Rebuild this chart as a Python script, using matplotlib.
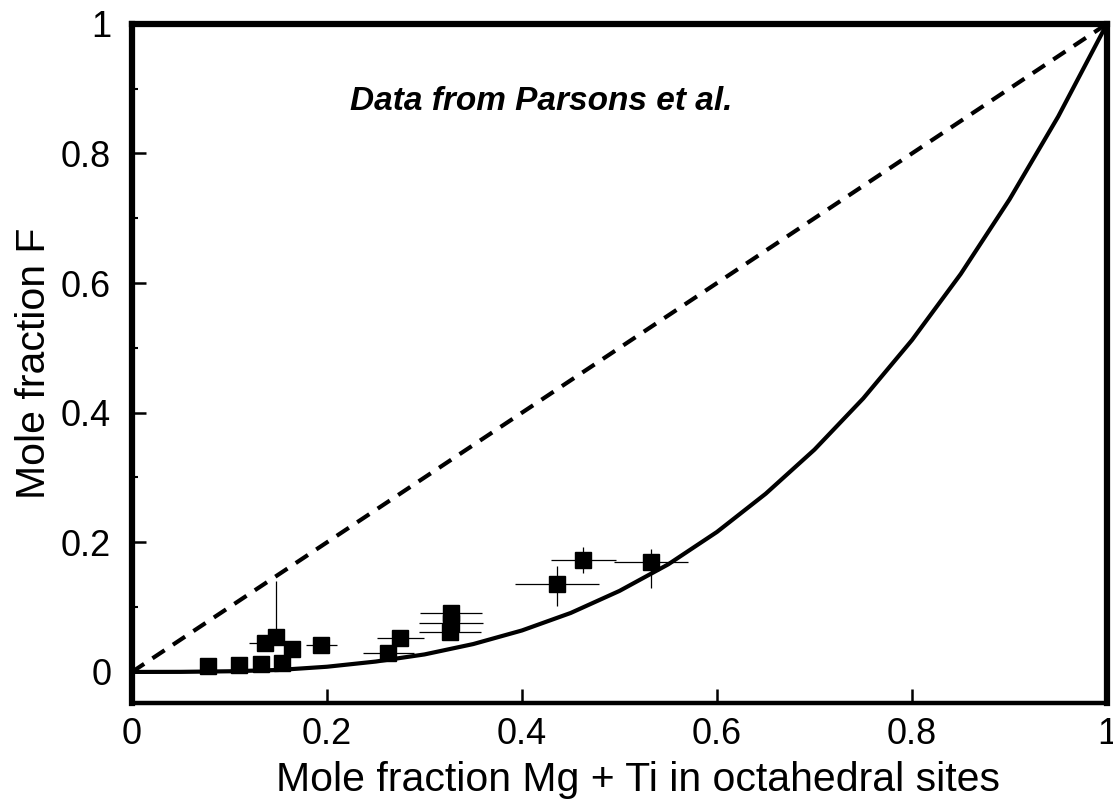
import matplotlib
matplotlib.use("Agg")
import matplotlib.pyplot as plt
from matplotlib.ticker import MultipleLocator

plt.rcParams['font.family'] = ['Liberation Sans', 'DejaVu Sans']

# Data points (Parsons et al.)
pt_x = [0.078, 0.110, 0.132, 0.136, 0.148, 0.154, 0.164, 0.194,
        0.263, 0.275, 0.327, 0.327, 0.326, 0.436, 0.463, 0.532]
pt_y = [0.009, 0.011, 0.012, 0.045, 0.054, 0.014, 0.036, 0.042,
        0.029, 0.053, 0.091, 0.076, 0.062, 0.136, 0.172, 0.169]
pt_xerr = [0.0, 0.0, 0.0, 0.016, 0.0, 0.0, 0.0, 0.016,
           0.026, 0.024, 0.032, 0.033, 0.032, 0.043, 0.033, 0.038]
pt_yerr_lo = [0.0, 0.0, 0.0, 0.0, 0.0, 0.0, 0.0, 0.0,
              0.0, 0.0, 0.0, 0.0, 0.0, 0.035, 0.020, 0.040]
pt_yerr_hi = [0.0, 0.0, 0.0, 0.0, 0.086, 0.0, 0.0, 0.0,
              0.0, 0.0, 0.0, 0.0, 0.0, 0.027, 0.020, 0.020]

# Model curve
curve_x = [0.0, 0.05, 0.10, 0.15, 0.20, 0.25, 0.30, 0.35, 0.40, 0.45, 0.50,
           0.55, 0.60, 0.65, 0.70, 0.75, 0.80, 0.85, 0.90, 0.95, 1.0]
curve_y = [0.0, 0.0001, 0.001, 0.003, 0.008, 0.016, 0.027, 0.043, 0.064, 0.091, 0.125,
           0.166, 0.216, 0.275, 0.343, 0.422, 0.512, 0.614, 0.729, 0.857, 1.0]

# 1:1 line
diag_x = [0.0, 1.0]
diag_y = [0.0, 1.0]

xticks = [0, 0.2, 0.4, 0.6, 0.8, 1]
xtick_labels = ['0', '0.2', '0.4', '0.6', '0.8', '1']
yticks = [0, 0.2, 0.4, 0.6, 0.8, 1]
ytick_labels = ['0', '0.2', '0.4', '0.6', '0.8', '1']

fig = plt.figure(figsize=(11.13, 8.01), dpi=100)
ax = fig.add_axes([0.1186, 0.1223, 0.876, 0.848])

ax.plot(diag_x, diag_y, color='black', lw=3, dashes=(3.5, 2.4), clip_on=False)
ax.plot(curve_x, curve_y, color='black', lw=3, clip_on=False)
ax.errorbar(pt_x, pt_y, xerr=pt_xerr, yerr=[pt_yerr_lo, pt_yerr_hi],
            fmt='s', color='black', ms=12, ecolor='black', elinewidth=0.9,
            capsize=0, zorder=3)

ax.set_xlim(0, 1)
ax.set_ylim(-0.048, 1.0)
ax.set_xticks(xticks)
ax.set_xticklabels(xtick_labels)
ax.set_yticks(yticks)
ax.set_yticklabels(ytick_labels)
ax.yaxis.set_minor_locator(MultipleLocator(0.1))

ax.tick_params(axis='both', which='major', direction='in', length=10, width=1.8,
               labelsize=26)
ax.tick_params(axis='x', which='major', pad=10)
ax.tick_params(axis='y', which='major', pad=15)
ax.tick_params(axis='y', which='minor', direction='in', length=4, width=1.5)

for s in ax.spines.values():
    s.set_linewidth(4.5)
ax.spines['bottom'].set_linewidth(3.2)

ax.set_xlabel('Mole fraction Mg + Ti in octahedral sites', fontsize=29.5)
ax.xaxis.set_label_coords(0.519, -0.085)
ax.set_ylabel('Mole fraction F', fontsize=29.5, labelpad=6)

ax.text(0.224, 0.88, 'Data from Parsons et al.', fontsize=24, style='italic',
        weight='bold', ha='left', va='center')

fig.savefig('out.png', dpi=100)
